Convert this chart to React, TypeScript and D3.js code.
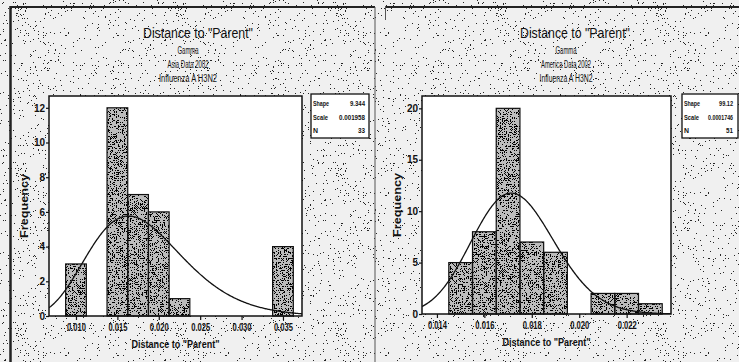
import React, { useRef, useEffect } from 'react';
import * as d3 from 'd3';

// Asia 2002 histogram
const asiaBins = [0.010, 0.015, 0.0175, 0.020, 0.0225, 0.035];
const asiaCounts = [3, 12, 7, 6, 1, 4];
const asiaXTicks = [0.010, 0.015, 0.020, 0.025, 0.030, 0.035];
const asiaYTicks = [0, 2, 4, 6, 8, 10, 12];
const asiaSubtitles = ['Gamma', 'Asia Data 2002', 'Influenza A H3N2'];
const asiaLegendLabels = ['Shape', 'Scale', 'N'];
const asiaLegendValues = ['9.344', '0.001958', '33'];
const asiaShape = 9.344;
const asiaScale = 0.001958;
const asiaN = 33;

// America 2002 histogram
const americaBins = [0.015, 0.016, 0.017, 0.018, 0.019, 0.021, 0.022, 0.023];
const americaCounts = [5, 8, 20, 7, 6, 2, 2, 1];
const americaXTicks = [0.014, 0.016, 0.018, 0.020, 0.022];
const americaYTicks = [0, 5, 10, 15, 20];
const americaSubtitles = ['Gamma', 'America Data 2002', 'Influenza A H3N2'];
const americaLegendLabels = ['Shape', 'Scale', 'N'];
const americaLegendValues = ['99.12', '0.0001746', '51'];
const americaShape = 99.12;
const americaScale = 0.0001746;
const americaN = 51;

const FONT = '"Liberation Sans", Arial, sans-serif';

// log gamma (Lanczos)
function lnGamma(z: number): number {
  const c = [0.99999999999980993, 676.5203681218851, -1259.1392167224028, 771.32342877765313,
    -176.61502916214059, 12.507343278686905, -0.13857109526572012, 9.9843695780195716e-6, 1.5056327351493116e-7];
  z -= 1;
  let s = c[0];
  for (let i = 1; i < 9; i++) s += c[i] / (z + i);
  const t = z + 7.5;
  return 0.5 * Math.log(2 * Math.PI) + (z + 0.5) * Math.log(t) - t + Math.log(s);
}

function gammaPdf(v: number, k: number, theta: number): number {
  if (v <= 0) return 0;
  return Math.exp((k - 1) * Math.log(v) - v / theta - lnGamma(k) - k * Math.log(theta));
}

// speckle threshold table: 0 below `from` (of 20 steps), `alpha` above
function speckleTable(from: number, alpha: number): string {
  return d3.range(20).map(i => (i >= from ? alpha : 0)).join(' ');
}

interface Box { x0: number; x1: number; y0: number; y1: number; }

interface PanelProps {
  bins: number[];
  counts: number[];
  binWidth: number;
  xDomain: [number, number];
  yMax: number;
  xTicks: number[];
  yTicks: number[];
  subtitles: string[];
  legendLabels: string[];
  legendValues: string[];
  valueWidths: number[];
  shape: number;
  scale: number;
  n: number;
  plot: Box;
  legend: Box;
  valueRight: number;
  titleX: number;
  subX: number;
  subWidths: number[];
  id: string;
}

const labelWidths = [16, 15, 5];

const Panel: React.FC<PanelProps> = (p) => {
  const gRef = useRef<SVGGElement | null>(null);

  useEffect(() => {
    const g = d3.select(gRef.current);
    g.selectAll('*').remove();
    const { plot, legend } = p;

    const x = d3.scaleLinear().domain(p.xDomain).range([plot.x0, plot.x1]);
    const y = d3.scaleLinear().domain([0, p.yMax]).range([plot.y1, plot.y0]);

    // plot area
    g.append('rect')
      .attr('x', plot.x0).attr('y', plot.y0)
      .attr('width', plot.x1 - plot.x0).attr('height', plot.y1 - plot.y0)
      .attr('fill', '#fff');

    // legend box
    g.append('rect')
      .attr('x', legend.x0).attr('y', legend.y0)
      .attr('width', legend.x1 - legend.x0).attr('height', legend.y1 - legend.y0)
      .attr('fill', '#fff').attr('stroke', '#111').attr('stroke-width', 1.3);

    const rows = g.append('g').attr('font-family', FONT).attr('font-size', 8).attr('font-weight', 'bold').attr('fill', '#111');
    p.legendLabels.forEach((lab, i) => {
      const yy = legend.y0 + 12 + i * 13.5;
      rows.append('text').attr('x', legend.x0 + 2).attr('y', yy)
        .attr('textLength', labelWidths[i]).attr('lengthAdjust', 'spacingAndGlyphs').text(lab);
      // squeeze the value horizontally so it keeps to its width
      const t = rows.append('text').attr('text-anchor', 'end').text(p.legendValues[i]);
      const natural = (t.node() as SVGTextElement).getComputedTextLength() || p.valueWidths[i];
      const sx = Math.min(1, p.valueWidths[i] / natural);
      t.attr('transform', `translate(${p.valueRight},${yy}) scale(${sx},1)`);
    });

    // bars
    const bars = g.append('g');
    const bx = (d: number) => x(d - p.binWidth / 2);
    const bw = x(p.binWidth) - x(0);
    bars.selectAll('.base').data(p.bins).enter().append('rect')
      .attr('x', d => bx(d)).attr('width', bw)
      .attr('y', (_, i) => y(p.counts[i])).attr('height', (_, i) => y(0) - y(p.counts[i]))
      .attr('fill', '#bcbcbc');
    bars.selectAll('.dots').data(p.bins).enter().append('rect')
      .attr('x', d => bx(d)).attr('width', bw)
      .attr('y', (_, i) => y(p.counts[i])).attr('height', (_, i) => y(0) - y(p.counts[i]))
      .attr('fill', '#111').attr('filter', 'url(#sp-bar)');
    bars.selectAll('.edge').data(p.bins).enter().append('rect')
      .attr('x', d => bx(d)).attr('width', bw)
      .attr('y', (_, i) => y(p.counts[i])).attr('height', (_, i) => y(0) - y(p.counts[i]))
      .attr('fill', 'none').attr('stroke', '#111').attr('stroke-width', 1.2);

    // fitted gamma curve
    g.append('clipPath').attr('id', 'clip-' + p.id).append('rect')
      .attr('x', plot.x0).attr('y', plot.y0)
      .attr('width', plot.x1 - plot.x0).attr('height', plot.y1 - plot.y0);
    const xs = d3.range(0, 301).map(i => p.xDomain[0] + (i / 300) * (p.xDomain[1] - p.xDomain[0]));
    const line = d3.line<number>()
      .x(v => x(v))
      .y(v => y(p.n * p.binWidth * gammaPdf(v, p.shape, p.scale)));
    g.append('path').datum(xs)
      .attr('d', line)
      .attr('fill', 'none').attr('stroke', '#111').attr('stroke-width', 1.3)
      .attr('clip-path', `url(#clip-${p.id})`);

    // frame
    g.append('rect')
      .attr('x', plot.x0).attr('y', plot.y0)
      .attr('width', plot.x1 - plot.x0).attr('height', plot.y1 - plot.y0)
      .attr('fill', 'none').attr('stroke', '#111').attr('stroke-width', 1.5);

    // axes
    const yAxis = d3.axisLeft(y).tickValues(p.yTicks).tickSize(3).tickSizeOuter(0).tickPadding(1);
    const ya = g.append('g').attr('transform', `translate(${plot.x0},0)`).call(yAxis);
    ya.select('.domain').remove();
    ya.selectAll('line').attr('stroke', '#111').attr('stroke-width', 1.2);
    ya.selectAll('text').attr('font-family', FONT).attr('font-size', 10).attr('font-weight', 'bold').attr('fill', '#111');

    const xAxis = d3.axisBottom(x).tickValues(p.xTicks).tickFormat(d3.format('.3f') as any)
      .tickSize(4).tickSizeOuter(0).tickPadding(4);
    const xa = g.append('g').attr('transform', `translate(0,${plot.y1})`).call(xAxis);
    xa.select('.domain').remove();
    xa.selectAll('line').attr('stroke', '#111').attr('stroke-width', 1.2);
    xa.selectAll('text').attr('font-family', FONT).attr('font-size', 10).attr('font-weight', 'bold')
      .attr('fill', '#111').attr('textLength', 19).attr('lengthAdjust', 'spacingAndGlyphs');

    // axis titles
    g.append('text')
      .attr('transform', `translate(${plot.x0 - 21},${(plot.y0 + plot.y1) / 2}) rotate(-90)`)
      .attr('text-anchor', 'middle').attr('font-family', FONT).attr('font-size', 11).attr('font-weight', 'bold')
      .attr('fill', '#111').attr('textLength', 64).attr('lengthAdjust', 'spacingAndGlyphs')
      .text('Frequency');
    g.append('text')
      .attr('x', (plot.x0 + plot.x1) / 2).attr('y', plot.y1 + 32)
      .attr('text-anchor', 'middle').attr('font-family', FONT).attr('font-size', 11).attr('font-weight', 'bold')
      .attr('fill', '#111').attr('textLength', 88).attr('lengthAdjust', 'spacingAndGlyphs')
      .text('Distance to "Parent"');

    // titles
    g.append('text')
      .attr('x', p.titleX).attr('y', 38)
      .attr('text-anchor', 'middle').attr('font-family', FONT).attr('font-size', 14)
      .attr('fill', '#111').attr('textLength', 110).attr('lengthAdjust', 'spacingAndGlyphs')
      .text('Distance to "Parent"');
    p.subtitles.forEach((s, i) => {
      g.append('text')
        .attr('x', p.subX).attr('y', 54 + i * 14)
        .attr('text-anchor', 'middle').attr('font-family', FONT).attr('font-size', 10)
        .attr('fill', '#111').attr('textLength', p.subWidths[i]).attr('lengthAdjust', 'spacingAndGlyphs')
        .text(s);
    });
  }, [p]);

  return <g ref={gRef}></g>;
};

const App: React.FC = () => {
  return (
    <svg width={739} height={362} style={{ position: 'absolute', left: 0, top: 0, background: '#fff' }}>
      <defs>
        <filter id="sp-bg" x="0" y="0" width="1" height="1">
          <feTurbulence type="fractalNoise" baseFrequency="1.6" numOctaves="1" seed="4" result="noise" />
          <feColorMatrix in="noise" type="matrix" values="0 0 0 0 0  0 0 0 0 0  0 0 0 0 0  1 0 0 0 0" />
          <feComponentTransfer>
            <feFuncA type="discrete" tableValues={speckleTable(14, 0.85)} />
          </feComponentTransfer>
          <feComposite operator="in" in2="SourceAlpha" />
        </filter>
        <filter id="sp-bar" x="0" y="0" width="1" height="1">
          <feTurbulence type="fractalNoise" baseFrequency="1.5" numOctaves="1" seed="9" result="noise" />
          <feColorMatrix in="noise" type="matrix" values="0 0 0 0 0  0 0 0 0 0  0 0 0 0 0  1 0 0 0 0" />
          <feComponentTransfer>
            <feFuncA type="discrete" tableValues={speckleTable(11, 1)} />
          </feComponentTransfer>
          <feComposite operator="in" in2="SourceAlpha" />
        </filter>
      </defs>

      {/* speckled scan background */}
      <rect x={0} y={0} width={739} height={362} fill="#f0f0f0" />
      <rect x={0} y={0} width={739} height={362} fill="#333" filter="url(#sp-bg)" />

      {/* panel frames */}
      <line x1={10.5} y1={6} x2={10.5} y2={362} stroke="#222" strokeWidth={2.5} />
      <line x1={10} y1={7} x2={375} y2={7} stroke="#222" strokeWidth={2} />
      <line x1={375} y1={7} x2={375} y2={362} stroke="#555" strokeWidth={1} />
      <line x1={385} y1={7} x2={739} y2={7} stroke="#222" strokeWidth={2} />
      <line x1={385.5} y1={6} x2={385.5} y2={20} stroke="#555" strokeWidth={1} />

      <Panel
        id="asia"
        bins={asiaBins}
        counts={asiaCounts}
        binWidth={0.0025}
        xDomain={[0.00674, 0.0373]}
        yMax={12.68}
        xTicks={asiaXTicks}
        yTicks={asiaYTicks}
        subtitles={asiaSubtitles}
        legendLabels={asiaLegendLabels}
        legendValues={asiaLegendValues}
        valueWidths={[15, 26, 7]}
        shape={asiaShape}
        scale={asiaScale}
        n={asiaN}
        plot={{ x0: 49, x1: 302, y0: 96, y1: 316 }}
        legend={{ x0: 311, x1: 369, y0: 94, y1: 138 }}
        valueRight={365}
        titleX={198}
        subX={188}
        subWidths={[21, 41, 58]}
      />
      <Panel
        id="america"
        bins={americaBins}
        counts={americaCounts}
        binWidth={0.001}
        xDomain={[0.01337, 0.02387]}
        yMax={21.2}
        xTicks={americaXTicks}
        yTicks={americaYTicks}
        subtitles={americaSubtitles}
        legendLabels={americaLegendLabels}
        legendValues={americaLegendValues}
        valueWidths={[14, 25, 7]}
        shape={americaShape}
        scale={americaScale}
        n={americaN}
        plot={{ x0: 422, x1: 671, y0: 96, y1: 314 }}
        legend={{ x0: 682, x1: 738, y0: 94, y1: 138 }}
        valueRight={733}
        titleX={575}
        subX={566}
        subWidths={[21, 50, 53]}
      />
    </svg>
  );
};

export default App;
